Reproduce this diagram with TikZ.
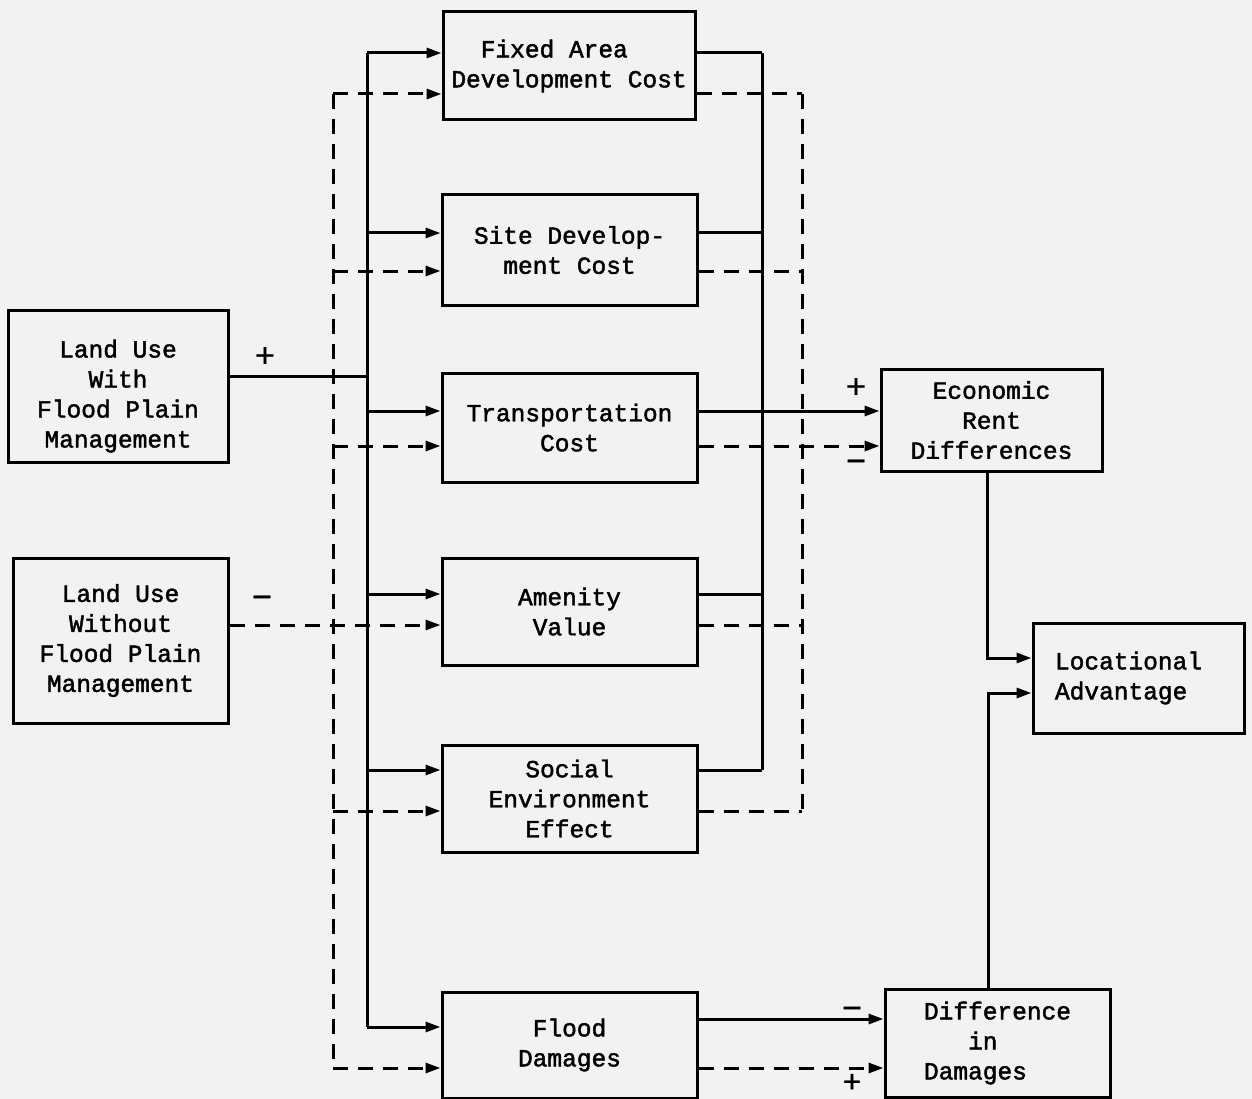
\documentclass[tikz,border=0pt]{standalone}
\usepackage{fontspec}
\newfontfamily\tw[FakeBold=1.8]{Liberation Mono}
\newfontfamily\sgn[FakeBold=1]{Liberation Sans}
\usetikzlibrary{arrows.meta}
\begin{document}
\begin{tikzpicture}[x=1pt,y=-1pt,
  box/.style={draw,line width=3pt,inner sep=0pt,font=\tw\fontsize{24.5}{30}\selectfont,align=center},
  conn/.style={line width=3pt},
  dconn/.style={line width=3pt,dash pattern=on 15pt off 10pt},
  arr/.style={-{Triangle[length=15pt,width=10pt]}},
  sign/.style={font=\sgn\fontsize{34}{34}\selectfont,inner sep=0pt}]
\useasboundingbox[fill=black!5] (0,0) rectangle (1252,1099);
% boxes
\node[box,minimum width=220pt,minimum height=152pt] (luw) at (118,386) {\rule{0pt}{38pt}Land Use\\With\\Flood Plain\\Management};
\node[box,minimum width=215pt,minimum height=165pt] (luwo) at (120.5,640.5) {Land Use\\Without\\Flood Plain\\Management};
\node[box,minimum width=252pt,minimum height=108pt,align=left] (fadc) at (569,66) {\phantom{xx}Fixed Area\\Development Cost};
\node[box,minimum width=255pt,minimum height=110pt] (sdc) at (569.5,250) {Site Develop-\\ment Cost};
\node[box,minimum width=255pt,minimum height=109pt] (tc) at (569.5,427.5) {Transportation\\Cost};
\node[box,minimum width=255pt,minimum height=107pt] (av) at (569.5,611.5) {Amenity\\Value};
\node[box,minimum width=255pt,minimum height=107pt] (see) at (569.5,798.5) {Social\\Environment\\Effect};
\node[box,minimum width=255pt,minimum height=106pt] (fd) at (569.5,1045) {Flood\\Damages};
\node[box,minimum width=221pt,minimum height=102pt] (erd) at (991.5,420) {Economic\\Rent\\Differences};
\node[box,text width=167pt,inner xsep=22pt,minimum height=110pt,align=left] (la) at (1138.5,678) {Locational\\Advantage};
\node[box,minimum width=225pt,minimum height=108pt,align=left] (did) at (997.5,1043) {Difference\\\phantom{xxx}in\\Damages};
% bus x positions and connector levels
\coordinate (Ls) at (367,0);
\coordinate (Ld) at (333,0);
\coordinate (Rs) at (762,0);
\coordinate (Rd) at (802,0);
\coordinate (luwS) at (0,376);
\coordinate (fadcS) at (0,53);  \coordinate (fadcD) at (0,94);
\coordinate (sdcS) at (0,233);  \coordinate (sdcD) at (0,271);
\coordinate (tcS) at (0,411);   \coordinate (tcD) at (0,446);
\coordinate (avS) at (0,594);   \coordinate (avD) at (0,625);
\coordinate (seeS) at (0,770);  \coordinate (seeD) at (0,811);
\coordinate (fdSi) at (0,1027); \coordinate (fdSo) at (0,1019); \coordinate (fdD) at (0,1068);
\coordinate (erL) at (987,658);
\coordinate (ddL) at (988,693);
% left buses
\draw[conn] (Ls |- fadcS) -- (Ls |- fdSi);
\draw[dconn] (Ld |- fadcD) -- (Ld |- fdD);
\draw[conn] (luw.east |- luwS) -- (Ls |- luwS);
\draw[dconn,arr] (luwo.east |- avD) -- (av.west |- avD);
% inputs of middle boxes
\foreach \b in {fadc,sdc,tc,av,see} {
  \draw[conn,arr] (Ls |- \b S) -- (\b.west |- \b S);
}
\draw[conn,arr] (Ls |- fdSi) -- (fd.west |- fdSi);
\foreach \b in {fadc,sdc,tc,see,fd} {
  \draw[dconn,arr] (Ld |- \b D) -- (\b.west |- \b D);
}
% outputs to right buses
\foreach \b in {fadc,sdc,av,see} {
  \draw[conn] (\b.east |- \b S) -- (Rs |- \b S);
  \draw[dconn] (\b.east |- \b D) -- (Rd |- \b D);
}
\draw[conn] (Rs |- fadcS) -- (Rs |- seeS);
\draw[dconn] (Rd |- fadcD) -- (Rd |- seeD);
\draw[conn,arr] (tc.east |- tcS) -- (erd.west |- tcS);
\draw[dconn,arr] (tc.east |- tcD) -- (erd.west |- tcD);
% flood damages
\draw[conn,arr] (fd.east |- fdSo) -- (did.west |- fdSo);
\draw[dconn,arr] (fd.east |- fdD) -- (did.west |- fdD);
% to locational advantage
\draw[conn,arr] (erd.south -| erL) |- (la.west |- erL);
\draw[conn,arr] (did.north -| ddL) |- (la.west |- ddL);
% signs
\node[sign] (s1) at (265,357) {+};
\node[sign] (s2) at (262,602) {−};
\node[sign] (s3) at (856,388) {+};
\node[sign] (s4) at (856,466) {−};
\node[sign] (s5) at (852,1013) {−};
\node[sign,font=\sgn\fontsize{31}{31}\selectfont] (s6) at (852,1083) {+};
\end{tikzpicture}
\end{document}
